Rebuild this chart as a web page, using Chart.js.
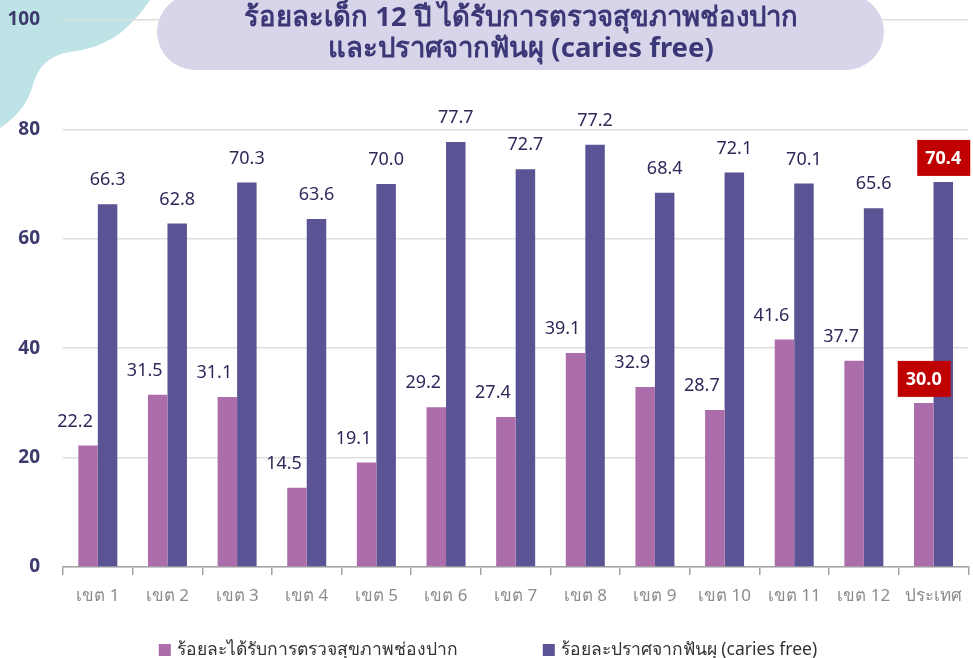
<!DOCTYPE html>
<html>
<head>
<meta charset="utf-8">
<script src="https://cdn.jsdelivr.net/npm/chart.js@4"></script>
<style>
  html, body { margin: 0; padding: 0; background: #fff; }
  #wrap { width: 973px; height: 658px; }
</style>
</head>
<body>
<div id="wrap"><canvas id="chart" width="973" height="658"></canvas></div>
<script>
const categories = ['เขต 1', 'เขต 2', 'เขต 3', 'เขต 4', 'เขต 5', 'เขต 6', 'เขต 7', 'เขต 8', 'เขต 9', 'เขต 10', 'เขต 11', 'เขต 12', 'ประเทศ'];
const checkupRate = [22.2, 31.5, 31.1, 14.5, 19.1, 29.2, 27.4, 39.1, 32.9, 28.7, 41.6, 37.7, 30.0];
const cariesFreeRate = [66.3, 62.8, 70.3, 63.6, 70.0, 77.7, 72.7, 77.2, 68.4, 72.1, 70.1, 65.6, 70.4];
const seriesNames = ['ร้อยละได้รับการตรวจสุขภาพช่องปาก', 'ร้อยละปราศจากฟันผุ (caries free)'];
const titleLines = ['ร้อยละเด็ก 12 ปี ได้รับการตรวจสุขภาพช่องปาก', 'และปราศจากฟันผุ (caries free)'];
const yTicks = [0, 20, 40, 60, 80, 100];

const FONT = "'Noto Sans', sans-serif";
const PINK = '#ab6eab';
const PURPLE = '#5a5494';
const NAVY = '#3d3a6d';

// ตกแต่งพื้นหลัง หัวเรื่อง ป้ายค่า และคำอธิบาย
const decorPlugin = {
    id: 'decor',
    beforeDraw(chart) {
        const ctx = chart.ctx;
        ctx.save();
        ctx.fillStyle = '#ffffff';
        ctx.fillRect(0, 0, chart.width, chart.height);
        // ก้อนสีฟ้ามุมซ้ายบน
        ctx.fillStyle = '#bde3e7';
        ctx.beginPath();
        ctx.moveTo(0, 0);
        ctx.lineTo(150, 0);
        ctx.bezierCurveTo(132, 26, 112, 46, 75, 51);
        ctx.bezierCurveTo(45, 55, 37, 70, 32, 88);
        ctx.bezierCurveTo(26, 108, 12, 120, 0, 128);
        ctx.closePath();
        ctx.fill();
        ctx.restore();
    },
    afterDatasetsDraw(chart) {
        const ctx = chart.ctx;
        const last = categories.length - 1;
        ctx.save();
        ctx.textAlign = 'center';
        ctx.textBaseline = 'middle';
        [0, 1].forEach(di => {
            const meta = chart.getDatasetMeta(di);
            const values = chart.data.datasets[di].data;
            meta.data.forEach((bar, i) => {
                const text = values[i].toFixed(1);
                const x = bar.x + (di === 0 && i !== last ? -13 : 0);
                const y = bar.y - 24;
                if (i === last) {
                    // ค่าระดับประเทศ: กล่องสีแดง
                    ctx.font = 'bold 18px ' + FONT;
                    ctx.fillStyle = '#c00000';
                    ctx.fillRect(x - 26, y - 18, 53, 36);
                    ctx.fillStyle = '#ffffff';
                    ctx.fillText(text, x, y + 1);
                } else {
                    ctx.font = '18px ' + FONT;
                    ctx.fillStyle = '#2d2a5a';
                    ctx.fillText(text, x, y);
                }
            });
        });
        ctx.restore();
    },
    afterDraw(chart) {
        const ctx = chart.ctx;
        ctx.save();
        // กรอบหัวเรื่อง
        const left = 157, right = 884, top = -6, bottom = 70, r = 38;
        ctx.fillStyle = '#d8d5ea';
        ctx.beginPath();
        ctx.moveTo(left + r, top);
        ctx.lineTo(right - r, top);
        ctx.arc(right - r, top + r, r, -Math.PI / 2, 0);
        ctx.lineTo(right, bottom - r);
        ctx.arc(right - r, bottom - r, r, 0, Math.PI / 2);
        ctx.lineTo(left + r, bottom);
        ctx.arc(left + r, bottom - r, r, Math.PI / 2, Math.PI);
        ctx.lineTo(left, top + r);
        ctx.arc(left + r, top + r, r, Math.PI, Math.PI * 1.5);
        ctx.closePath();
        ctx.fill();
        ctx.fillStyle = '#3c3878';
        ctx.font = 'bold 27.5px ' + FONT;
        ctx.textAlign = 'center';
        ctx.textBaseline = 'middle';
        ctx.fillText(titleLines[0], 521, 18);
        ctx.fillText(titleLines[1], 521, 49);

        // คำอธิบายสัญลักษณ์
        ctx.font = '17.5px ' + FONT;
        const colors = [PINK, PURPLE];
        const box = 12, gap = 6, spacing = 85;
        const widths = seriesNames.map(s => ctx.measureText(s).width);
        const total = box * 2 + gap * 2 + widths[0] + widths[1] + spacing;
        let x = 488 - total / 2;
        const y = 650;
        ctx.textAlign = 'left';
        seriesNames.forEach((name, i) => {
            ctx.fillStyle = colors[i];
            ctx.fillRect(x, y - 6, box, box);
            ctx.fillStyle = '#333333';
            ctx.fillText(name, x + box + gap, y);
            x += box + gap + widths[i] + spacing;
        });
        ctx.restore();
    }
};

const chart = new Chart(document.getElementById('chart'), {
    type: 'bar',
    data: {
        labels: categories,
        datasets: [
            { label: seriesNames[0], data: checkupRate, backgroundColor: PINK },
            { label: seriesNames[1], data: cariesFreeRate, backgroundColor: PURPLE }
        ]
    },
    options: {
        responsive: false,
        animation: false,
        events: [],
        layout: { padding: { top: 20, right: 0, bottom: 50, left: 0 } },
        datasets: { bar: { categoryPercentage: 0.56, barPercentage: 1.0 } },
        plugins: {
            legend: { display: false },
            title: { display: false },
            tooltip: { enabled: false }
        },
        scales: {
            x: {
                afterFit: s => { s.height = 41; },
                grid: { offset: true, drawOnChartArea: false, color: '#a3a3a3', lineWidth: 1.5, tickLength: 8 },
                border: { color: '#a3a3a3', width: 1.5 },
                ticks: { color: '#8c8c8c', font: { family: FONT, size: 17 }, padding: 11, maxRotation: 0, autoSkip: false }
            },
            y: {
                min: 0,
                max: 100,
                afterFit: s => { s.width = 63; s.paddingTop = 0; s.paddingBottom = 0; },
                afterBuildTicks: s => { s.ticks = yTicks.map(v => ({ value: v })); },
                grid: { color: '#dedede', lineWidth: 1.5, drawTicks: false },
                border: { display: false },
                ticks: { color: NAVY, font: { family: FONT, size: 19, weight: 'bold' }, padding: 23 }
            }
        }
    },
    plugins: [decorPlugin]
});
</script>
</body>
</html>
